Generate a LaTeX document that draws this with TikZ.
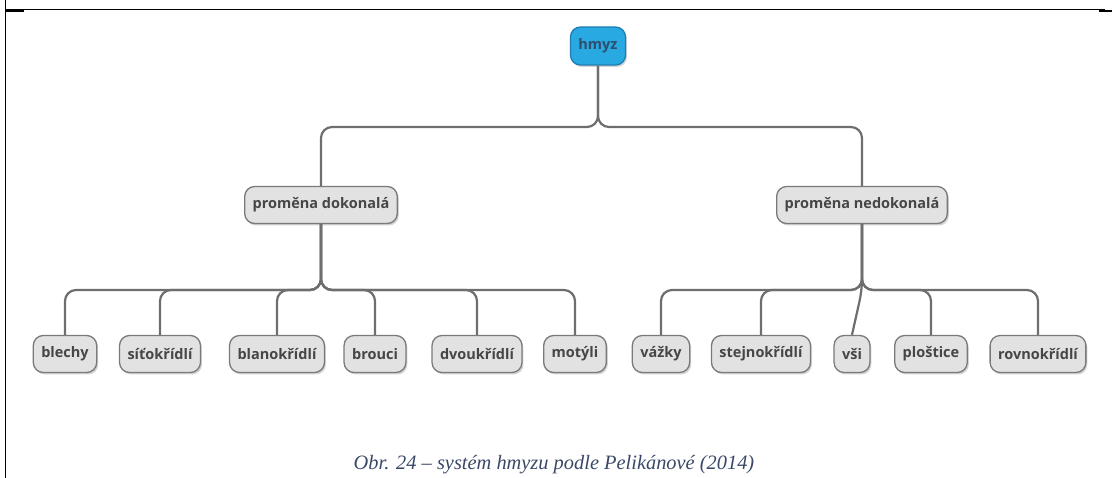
\documentclass[tikz,border=0pt]{standalone}
\usepackage{fontspec}
\newfontfamily\boxfont{Open Sans}
\newfontfamily\capfont{Liberation Serif}
\usetikzlibrary{shadows}
\definecolor{boxfill}{HTML}{E2E2E2}
\definecolor{boxline}{HTML}{7A7A7A}
\definecolor{boxtext}{HTML}{464646}
\definecolor{rootfill}{HTML}{29A9E1}
\definecolor{rootline}{HTML}{1E7FB2}
\definecolor{roottext}{HTML}{2E4E6E}
\definecolor{linkcol}{HTML}{6E6E6E}
\definecolor{captext}{HTML}{3A4868}
\tikzset{
  topic/.style={draw=boxline, fill=boxfill, line width=1.3pt, rounded corners=10pt,
    minimum height=37pt, inner xsep=8pt, text=boxtext,
    font=\boxfont\bfseries\fontsize{14.5}{16}\selectfont,
    drop shadow={shadow xshift=1.5pt, shadow yshift=-2pt, opacity=0.35}},
  roottopic/.style={topic, draw=rootline, fill=rootfill, text=roottext, minimum height=38pt},
  link/.style={draw=linkcol, line width=2.2pt, rounded corners=11pt}
}
\begin{document}
\begin{tikzpicture}[x=1pt, y=-1pt] % hmyz
          \useasboundingbox (0,0) rectangle (1112,478);
          \draw[line width=1pt] (5,0) -- (5,478);
          \draw[line width=1pt] (5,10) -- (1105,10);
          \draw[line width=2.5pt] (5,11) -- (24,11);
          \draw[line width=2.5pt] (1099,11) -- (1112,11);

          \coordinate (bus) at (598,127);
          \coordinate (busd) at (321,290);
          \coordinate (busn) at (862,290);

          \node[roottopic] (hmyz) at (598,46) {hmyz};
          \node[topic] (dok) at (321,205) {proměna dokonalá};
          \node[topic] (nedok) at (862,205) {proměna nedokonalá};

          \node[topic] (blechy) at (65,354) {blechy};
          \node[topic] (sitok) at (160,354) {síťokřídlí};
          \node[topic] (blanok) at (277,354) {blanokřídlí};
          \node[topic] (brouci) at (375,354) {brouci};
          \node[topic] (dvouk) at (477,354) {dvoukřídlí};
          \node[topic] (motyli) at (575,354) {motýli};
          \node[topic] (vazky) at (661,354) {vážky};
          \node[topic] (stejnok) at (761,354) {stejnokřídlí};
          \node[topic] (vsi) at (852,354) {vši};
          \node[topic] (plostice) at (931,354) {ploštice};
          \node[topic] (rovnok) at (1038,354) {rovnokřídlí};

          \draw[link] (hmyz.south) -- (bus) -- (dok.north |- bus) -- (dok.north);
          \draw[link] (hmyz.south) -- (bus) -- (nedok.north |- bus) -- (nedok.north);

          \draw[link] (dok.south) -- (busd) -- (blechy.north |- busd) -- (blechy.north);
          \draw[link] (dok.south) -- (busd) -- (sitok.north |- busd) -- (sitok.north);
          \draw[link] (dok.south) -- (busd) -- (blanok.north |- busd) -- (blanok.north);
          \draw[link] (dok.south) -- (busd) -- (brouci.north |- busd) -- (brouci.north);
          \draw[link] (dok.south) -- (busd) -- (dvouk.north |- busd) -- (dvouk.north);
          \draw[link] (dok.south) -- (busd) -- (motyli.north |- busd) -- (motyli.north);

          \draw[link] (nedok.south) -- (busn) -- (vazky.north |- busn) -- (vazky.north);
          \draw[link] (nedok.south) -- (busn) -- (stejnok.north |- busn) -- (stejnok.north);
          \draw[link] (nedok.south) -- (busn) -- (vsi.north);
          \draw[link] (nedok.south) -- (busn) -- (plostice.north |- busn) -- (plostice.north);
          \draw[link] (nedok.south) -- (busn) -- (rovnok.north |- busn) -- (rovnok.north);

          \node[text=captext, font=\capfont\itshape\fontsize{20.4}{23}\selectfont] (caption) at (554,465) {Obr. 24 – systém hmyzu podle Pelikánové (2014)};
        \end{tikzpicture}
\end{document}
